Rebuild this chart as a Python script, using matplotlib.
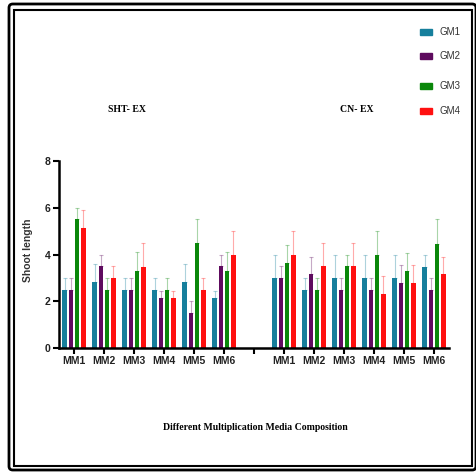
import matplotlib
matplotlib.use("Agg")
import matplotlib.pyplot as plt
import numpy as np
from matplotlib.patches import Rectangle, FancyBboxPatch

categories = ["MM1", "MM2", "MM3", "MM4", "MM5", "MM6", "",
              "MM1", "MM2", "MM3", "MM4", "MM5", "MM6"]
series = ["GM1", "GM2", "GM3", "GM4"]
colors = ["#167f9c", "#5e0b5e", "#0a870a", "#ff1010"]

# SHT-EX then CN-EX (position 6 left empty)
gm1 = [2.5, 2.83, 2.5, 2.5, 2.83, 2.16, np.nan, 3.0, 2.5, 3.0, 3.0, 3.0, 3.45]
gm2 = [2.5, 3.5, 2.5, 2.16, 1.5, 3.5, np.nan, 3.0, 3.15, 2.5, 2.5, 2.8, 2.5]
gm3 = [5.5, 2.5, 3.3, 2.5, 4.5, 3.3, np.nan, 3.65, 2.5, 3.5, 4.0, 3.3, 4.45]
gm4 = [5.15, 3.0, 3.45, 2.16, 2.5, 4.0, np.nan, 4.0, 3.5, 3.5, 2.3, 2.8, 3.15]

err1 = [0.5, 0.77, 0.5, 0.5, 0.77, 0.27, np.nan, 1.0, 0.5, 1.0, 1.0, 1.0, 0.55]
err2 = [0.5, 0.5, 0.5, 0.27, 0.5, 0.5, np.nan, 0.5, 0.75, 0.5, 0.5, 0.75, 0.5]
err3 = [0.5, 0.5, 0.8, 0.5, 1.0, 0.8, np.nan, 0.75, 0.5, 0.5, 1.0, 0.75, 1.05]
err4 = [0.75, 0.5, 1.05, 0.27, 0.5, 1.0, np.nan, 1.0, 1.0, 1.0, 0.8, 0.75, 0.75]

panel_titles = ["SHT- EX", "CN- EX"]
ylabel = "Shoot length"
xlabel = "Different Multiplication Media Composition"

values = [gm1, gm2, gm3, gm4]
errors = [err1, err2, err3, err4]

sans = ["Liberation Sans", "DejaVu Sans"]
serif = ["Liberation Serif", "DejaVu Serif"]

W, H = 477, 473
fig = plt.figure(figsize=(W / 100, H / 100), dpi=100)
ax = fig.add_axes([59 / W, 1 - 348 / H, (449 - 59) / W, (348 - 161) / H])

x = np.arange(len(categories))
bw = 0.15
step = 0.21
for i, (vals, errs, c) in enumerate(zip(values, errors, colors)):
    pos = x + (i - 1.5) * step
    v = np.array(vals, dtype=float)
    e = np.array(errs, dtype=float)
    m = ~np.isnan(v)
    ax.bar(pos[m], v[m], width=bw, color=c, label=series[i], zorder=2)
    ax.errorbar(pos[m], v[m], yerr=[np.zeros(m.sum()), e[m]], fmt="none",
                ecolor=c, alpha=0.35, elinewidth=0.8, capsize=1.2,
                capthick=0.8, zorder=1)

ax.set_xlim(-0.5, 12.5)
ax.set_ylim(0, 8)
ax.set_yticks([0, 2, 4, 6, 8])
ax.set_xticks(x)
ax.set_xticklabels(categories)
for s in ["top", "right"]:
    ax.spines[s].set_visible(False)
ax.spines["left"].set_linewidth(1.8)
ax.spines["bottom"].set_linewidth(1.8)
ax.tick_params(axis="both", width=1.5, length=4, direction="out", pad=2)
for lab in ax.get_xticklabels() + ax.get_yticklabels():
    lab.set_fontweight("bold")
    lab.set_fontsize(7.5)
    lab.set_family(sans)
    lab.set_color("#222222")

fig.text(28 / W, 1 - 250 / H, ylabel, rotation=90, ha="center", va="center",
         fontsize=7.5, fontweight="bold", color="#333333", family=sans)
fig.text(127 / W, 1 - 110 / H, panel_titles[0], ha="center", va="center",
         fontsize=7, fontweight="bold", family=serif)
fig.text(357 / W, 1 - 110 / H, panel_titles[1], ha="center", va="center",
         fontsize=7, fontweight="bold", family=serif)
fig.text(255 / W, 1 - 427 / H, xlabel, ha="center", va="center",
         fontsize=7, fontweight="bold", family=serif)

# legend drawn manually at figure positions
leg_y = [32, 56, 86, 111]
for c, name, yy in zip(colors, series, leg_y):
    fig.patches.append(Rectangle((420 / W, 1 - (yy + 3) / H), 12 / W, 6 / H,
                                 transform=fig.transFigure, color=c))
    fig.text(440 / W, 1 - yy / H, name, ha="left", va="center", fontsize=7,
             family=sans, color="#333333")

# double border
fig.patches.append(FancyBboxPatch((9 / W, 1 - 470 / H), (476 - 9) / W, (470 - 4) / H,
                                  boxstyle="round,pad=0,rounding_size=0.008",
                                  transform=fig.transFigure, fill=False,
                                  edgecolor="black", linewidth=2.0))
fig.patches.append(Rectangle((14 / W, 1 - 466 / H), (472 - 14) / W, (466 - 10) / H,
                             transform=fig.transFigure, fill=False,
                             edgecolor="black", linewidth=1.5))

fig.savefig("out.png", dpi=100)
